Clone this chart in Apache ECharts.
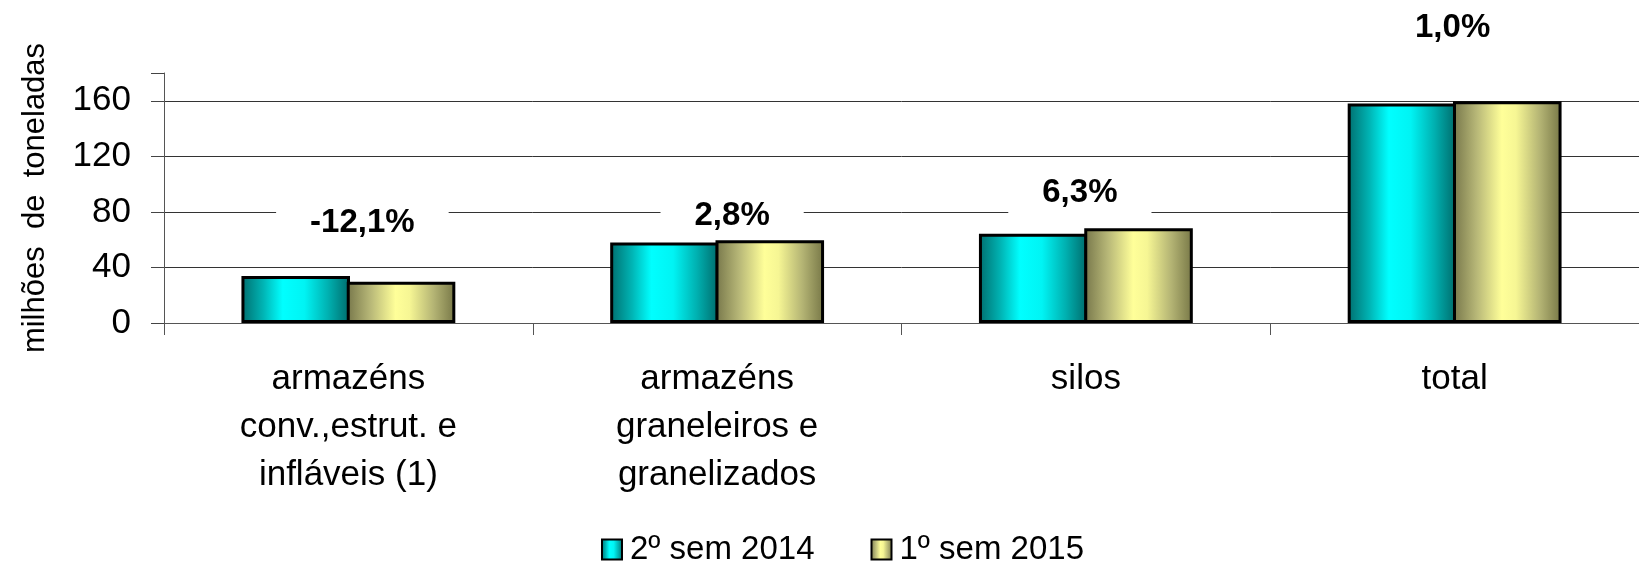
<!DOCTYPE html>
<html>
<head>
<meta charset="utf-8">
<title>Capacidade estática de armazenagem</title>
<script src="https://cdn.jsdelivr.net/npm/echarts@6.0.0/dist/echarts.min.js"></script>
<style>
  html, body { margin: 0; padding: 0; background: #fff; }
  #chart { width: 1639px; height: 566px; }
</style>
</head>
<body>
<div id="chart"></div>
<script>
const categories = [
  'armazéns\nconv.,estrut. e\ninfláveis (1)',
  'armazéns\ngraneleiros e\ngranelizados',
  'silos',
  'total'
]
const seriesNames = ['2º sem 2014', '1º sem 2015']
const sem2014 = [33.8, 57.9, 64.2, 158.0]
const sem2015 = [29.7, 59.5, 68.3, 159.6]
const changeLabels = ['-12,1%', '2,8%', '6,3%', '1,0%']
// altura (em milhões de t) onde fica cada rótulo de variação
const labelLevels = [71.9, 76.9, 93.4, 212.3]
const yTicks = [0, 40, 80, 120, 160]

const FONT = 'Liberation Sans, Arial, sans-serif'
// pequeno deslocamento horizontal dos rótulos (px), como no original
const labelNudge = [14, 15, -6, -2]

// gradientes horizontais das barras
const cyanFill = new echarts.graphic.LinearGradient(0, 0, 1, 0, [
  { offset: 0, color: '#006e6e' },
  { offset: 0.2, color: '#00b4b4' },
  { offset: 0.38, color: '#00ffff' },
  { offset: 0.58, color: '#00f4f4' },
  { offset: 0.8, color: '#00b0b0' },
  { offset: 1, color: '#006a6a' }
])
const yellowFill = new echarts.graphic.LinearGradient(0, 0, 1, 0, [
  { offset: 0, color: '#76764a' },
  { offset: 0.22, color: '#b8b878' },
  { offset: 0.45, color: '#ffff99' },
  { offset: 0.58, color: '#f6f694' },
  { offset: 0.8, color: '#b4b474' },
  { offset: 1, color: '#767646' }
])

const chart = echarts.init(document.getElementById('chart'))

const option = {
  animation: false,
  backgroundColor: '#fff',
  textStyle: { fontFamily: FONT, color: '#000' },
  grid: {
    left: 164,
    right: -9,
    top: 73,
    bottom: 243
  },
  legend: {
    left: 601,
    top: 533,
    icon: 'rect',
    itemWidth: 20,
    itemHeight: 20,
    itemGap: 56,
    padding: 0,
    data: seriesNames,
    itemStyle: { borderWidth: 2 },
    textStyle: {
      fontFamily: FONT,
      fontSize: 33,
      color: '#000',
      padding: [0, 0, 0, 3]
    }
  },
  xAxis: {
    type: 'category',
    data: categories,
    axisLine: { lineStyle: { color: '#555', width: 1 } },
    axisTick: { show: true, length: 12, interval: 0, lineStyle: { color: '#555' } },
    axisLabel: {
      interval: 0,
      margin: 32,
      fontFamily: FONT,
      fontSize: 35,
      lineHeight: 48,
      color: '#000'
    }
  },
  yAxis: {
    type: 'value',
    min: 0,
    max: 180,
    interval: 40,
    name: 'milhões  de  toneladas',
    nameLocation: 'middle',
    nameRotate: 90,
    nameGap: 113,
    nameTextStyle: { fontFamily: FONT, fontSize: 31, color: '#000' },
    axisLine: { show: true, lineStyle: { color: '#555', width: 1 } },
    axisTick: {
      show: true,
      length: 13,
      lineStyle: { color: '#444' }
    },
    axisLabel: {
      customValues: yTicks,
      margin: 33,
      fontFamily: FONT,
      fontSize: 35,
      color: '#000'
    },
    splitLine: {
      show: true,
      // o último traço (180) fica invisível
      lineStyle: {
        color: ['#333', '#333', '#333', '#333', '#333', 'rgba(0,0,0,0)'],
        width: 1
      }
    }
  },
  series: [
    {
      name: seriesNames[0],
      type: 'bar',
      data: sem2014,
      barGap: '-3%',
      barCategoryGap: '42%',
      itemStyle: { color: cyanFill, borderColor: '#000', borderWidth: 3 }
    },
    {
      name: seriesNames[1],
      type: 'bar',
      data: sem2015,
      itemStyle: { color: yellowFill, borderColor: '#000', borderWidth: 3 }
    },
    {
      name: 'variação',
      type: 'scatter',
      clip: false,
      silent: true,
      symbolSize: 1,
      itemStyle: { color: 'rgba(0,0,0,0)', opacity: 1 },
      z: 5,
      data: categories.map((c, i) => ({
        value: [c, labelLevels[i]],
        label: { offset: [labelNudge[i], 0] }
      })),
      label: {
        show: true,
        position: 'inside',
        formatter: (p) => changeLabels[p.dataIndex],
        fontFamily: FONT,
        fontSize: 33,
        fontWeight: 'bold',
        color: '#000',
        backgroundColor: '#fff',
        padding: [6, 34]
      }
    }
  ]
}

chart.setOption(option)
</script>
</body>
</html>
